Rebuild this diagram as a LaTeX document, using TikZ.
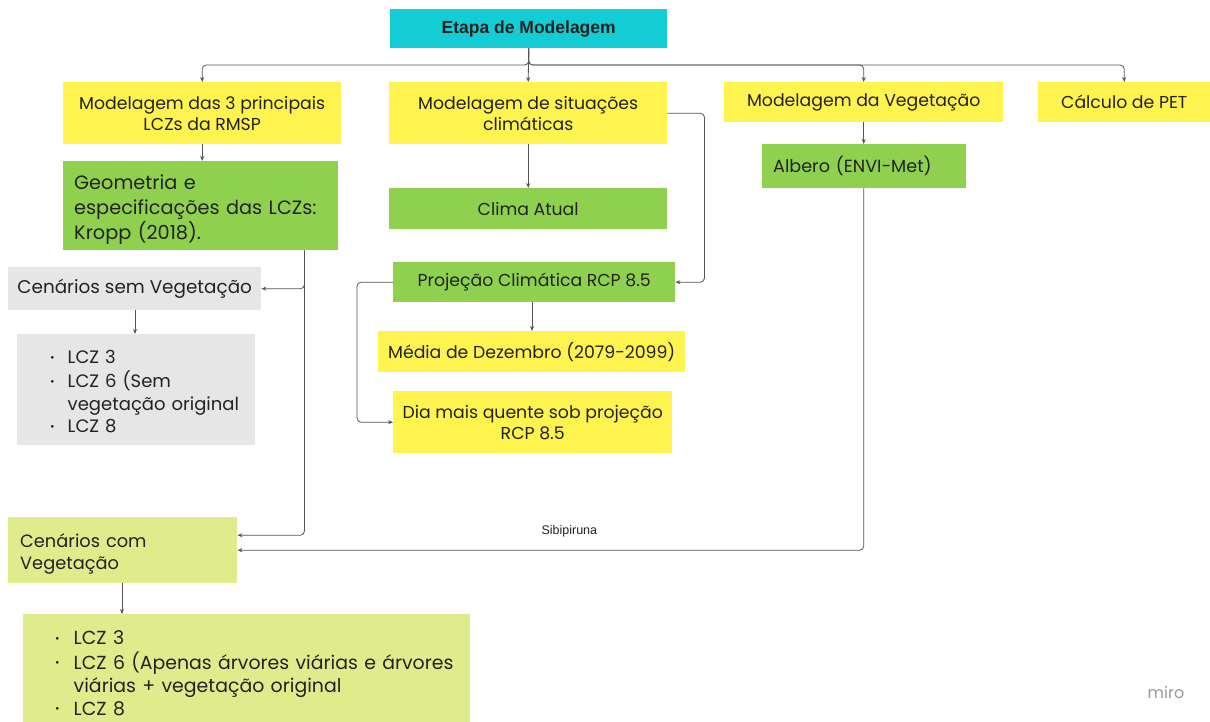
\documentclass[tikz,border=0pt]{standalone}
\usepackage{fontspec}
\setmainfont{Poppins}
\newfontfamily\arialfont{Liberation Sans}
\usetikzlibrary{arrows.meta,calc}
\definecolor{cyanbox}{HTML}{14CDD4}
\definecolor{yelbox}{HTML}{FFF44F}
\definecolor{grnbox}{HTML}{8FD14F}
\definecolor{graybox}{HTML}{E6E6E6}
\definecolor{lgrnbox}{HTML}{E0EC8C}
\definecolor{txt}{HTML}{222222}
\definecolor{conn}{HTML}{555555}
\newcommand{\bul}{\raisebox{0.12em}{\fontsize{11}{11}\selectfont•}}
\newcommand{\lowerby}[2]{\raisebox{-#1}[\height][\depth]{#2}}
\begin{document}
\begin{tikzpicture}[x=1pt,y=-1pt,
  base/.style={draw=none, inner sep=0pt, anchor=north west, text=txt,
    font=\fontsize{17.3}{21}\selectfont},
  cbox/.style={base, align=center},
  lbox/.style={base, align=left, inner xsep=12pt},
  arr/.style={draw=conn, line width=0.8pt, rounded corners=4pt,
    -{Stealth[length=5pt,width=4pt]}},
  lbl/.style={font=\arialfont\fontsize{12.5}{14}\selectfont, text=txt}]
\useasboundingbox (0,0) rectangle (1210,722);
\fill[white] (0,0) rectangle (1210,722);

\node[cbox, fill=cyanbox, minimum width=277, minimum height=39,
  font=\arialfont\bfseries\fontsize{17.5}{20}\selectfont] (etapa) at (390,9) {Etapa de Modelagem};

\node[cbox, fill=yelbox, minimum width=278, minimum height=62] (b1) at (63,82) {Modelagem das 3 principais\\LCZs da RMSP};
\node[cbox, fill=yelbox, minimum width=278, minimum height=62] (b2) at (389,82) {Modelagem de situações\\climáticas};
\node[cbox, fill=yelbox, minimum width=279, minimum height=40] (b3) at (724,82) {Modelagem da Vegetação};
\node[cbox, fill=yelbox, minimum width=172, minimum height=40] (b4) at (1038,82) {Cálculo de PET};

\node[lbox, fill=grnbox, inner xsep=11pt, text width=253, minimum height=89, font=\fontsize{19.3}{24.5}\selectfont] (geo) at (63,161) {\lowerby{4pt}{\begin{tabular}{@{}l@{}}Geometria e\\especificações das LCZs:\\Kropp (2018).\end{tabular}}};
\node[cbox, fill=grnbox, minimum width=278, minimum height=41] (clima) at (389,188) {Clima Atual};
\node[lbox, fill=grnbox, inner xsep=11pt, text width=182, minimum height=44, font=\fontsize{17.6}{21}\selectfont] (alb) at (762,144) {Albero (ENVI-Met)};

\node[cbox, fill=graybox, minimum width=253, minimum height=43, font=\fontsize{18.4}{22}\selectfont] (csem) at (8,267) {Cenários sem Vegetação};
\node[lbox, fill=graybox, inner xsep=0pt, text width=238, minimum height=111, font=\fontsize{18}{22.7}\selectfont] (lgray) at (17,334)
  {\hspace*{33pt}\lowerby{4pt}{\begin{tabular}{@{}l@{\hspace{13pt}}l@{}}\bul & LCZ 3\\ \bul & LCZ 6 (Sem\\ & vegetação original\\ \bul & LCZ 8\end{tabular}}};

\node[cbox, fill=grnbox, minimum width=282, minimum height=40] (proj) at (393,262) {Projeção Climática RCP 8.5};
\node[cbox, fill=yelbox, minimum width=307, minimum height=41] (media) at (378,331) {Média de Dezembro (2079-2099)};
\node[cbox, fill=yelbox, minimum width=279, minimum height=62] (dia) at (393,391) {Dia mais quente sob projeção\\RCP 8.5};

\node[lbox, fill=lgrnbox, text width=205, minimum height=66, font=\fontsize{17.8}{22}\selectfont] (ccom) at (8,517) {\lowerby{4pt}{\begin{tabular}{@{}l@{}}Cenários com\\Vegetação\end{tabular}}};
\node[lbox, fill=lgrnbox, inner xsep=0pt, text width=447, minimum height=114, font=\fontsize{18.9}{23}\selectfont] (lgreen) at (23,614)
  {\hspace*{32pt}\lowerby{4pt}{\begin{tabular}{@{}l@{\hspace{14pt}}l@{}}\bul & LCZ 3\\ \bul & LCZ 6 (Apenas árvores viárias e árvores\\ & viárias + vegetação original\\ \bul & LCZ 8\end{tabular}}};

\node[font=\fontsize{16}{17}\selectfont, text=black!40] (miro) at (1166,692) {miro};

% connectors
\coordinate (bus) at (529,65);
\draw[arr] (etapa.south) |- (b1.north |- bus) -- (b1.north);
\draw[arr] (etapa.south) -- (b2.north);
\draw[arr] (etapa.south) |- (b3.north |- bus) -- (b3.north);
\draw[arr] (etapa.south) |- (b4.north |- bus) -- (b4.north);

\draw[arr] (b1.south) -- (geo.north -| b1.south);
\draw[arr] (b2.south) -- (clima.north);
\draw[arr] (b3.south) -- (alb.north -| b3.south);
\draw[arr] (b2.east) -- ++(37,0) |- (proj.east);
\draw[arr] (proj.south -| 532,0) -- (media.north -| 532,0);
\draw[arr] (proj.west) -- ++(-36,0) |- (dia.west);

\coordinate (gs) at ($(geo.south east)+(-34,0)$);
\draw[arr] (gs) |- (csem.east);
\draw[arr] (gs) |- ($(ccom.east)+(0,-15)$);
\draw[arr] (csem.south -| 135,0) -- (lgray.north -| 135,0);
\draw[arr] (alb.south -| b3.south) -- (b3.south |- ccom.east) -- node[lbl, pos=0.47, above=9pt] {Sibipiruna} (ccom.east);
\draw[arr] (ccom.south -| 122,0) -- (lgreen.north -| 122,0);
\end{tikzpicture}
\end{document}
